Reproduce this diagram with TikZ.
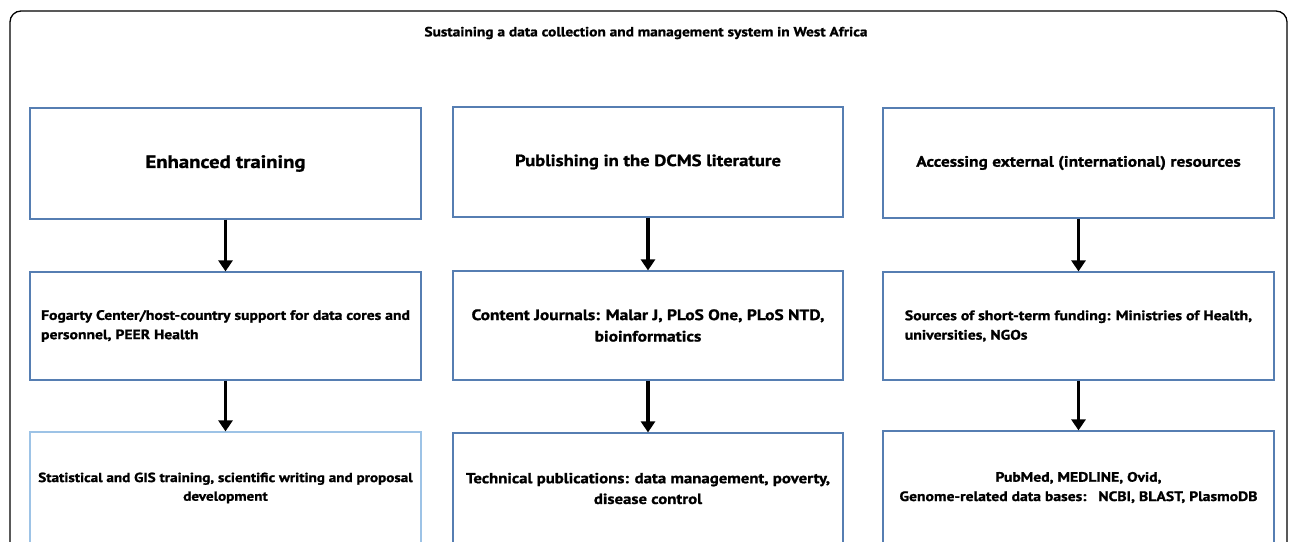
\documentclass[tikz,border=0pt]{standalone}
\usepackage{fontspec}
\setmainfont{PT Sans}[FakeBold=1.2, FakeStretch=1.15]
\usetikzlibrary{arrows.meta}
\definecolor{boxblue}{RGB}{86,126,178}
\definecolor{lightblue}{RGB}{157,195,230}
\newcommand{\fs}[1]{\fontsize{#1}{1.42\dimexpr#1pt\relax}\selectfont\bfseries}
\tikzset{
  stage/.style={draw=boxblue, line width=1.2pt, minimum width=391pt, align=center, inner sep=4pt},
  flow/.style={line width=3.6pt, -{Triangle[width=14pt,length=11pt]}},
}
\begin{document}
\begin{tikzpicture}[x=1pt,y=-1pt]
\useasboundingbox (0,0) rectangle (1292,541);
\clip (0,0) rectangle (1292,541);
\fill[white] (0,0) rectangle (1292,541);
% outer frame
\draw[line width=1.3pt, rounded corners=11pt] (10,11) rectangle (1287,600);
\node[font=\fs{13.35}] (title) at (646,33) {Sustaining a data collection and management system in West Africa};
% column 1
\node[stage, minimum height=111pt, font=\fs{18}] (a1) at (225.5,163.5) {Enhanced training};
\node[stage, minimum height=108pt, align=left, font=\fs{13.6}] (a2) at (225.5,326) {Fogarty Center/host-country support for data cores and\\personnel, PEER Health};
\node[stage, draw=lightblue, minimum height=112pt, font=\fs{13.15}] (a3) at (225.5,488) {Statistical and GIS training, scientific writing and proposal\\development};
% column 2
\node[stage, minimum width=390pt, minimum height=110pt, font=\fs{16.2}] (b1) at (648,162) {Publishing in the DCMS literature};
\node[stage, minimum width=390pt, minimum height=109pt, font=\fs{15.1}] (b2) at (648,325.5) {Content Journals: Malar J, PLoS One, PLoS NTD,\\bioinformatics};
\node[stage, minimum width=390pt, minimum height=111pt, font=\fs{14.6}] (b3) at (648,488.5) {Technical publications: data management, poverty,\\disease control};
% column 3
\node[stage, minimum height=110pt, font=\fs{15.1}] (c1) at (1078.5,163) {Accessing external (international) resources};
\node[stage, minimum height=108pt, align=left, font=\fs{13.7}] (c2) at (1078.5,326) {Sources of short-term funding: Ministries of Health,\\universities, NGOs};
\node[stage, minimum height=113pt, font=\fs{13.6}] (c3) at (1078.5,487.5) {PubMed, MEDLINE, Ovid,\\Genome-related data bases:\ \ \ NCBI, BLAST, PlasmoDB};
% connectors
\draw[flow] (a1) -- (a2);
\draw[flow] (a2) -- (a3);
\draw[flow] (b1) -- (b2);
\draw[flow] (b2) -- (b3);
\draw[flow] (c1) -- (c2);
\draw[flow] (c2) -- (c3);
\end{tikzpicture}
\end{document}
